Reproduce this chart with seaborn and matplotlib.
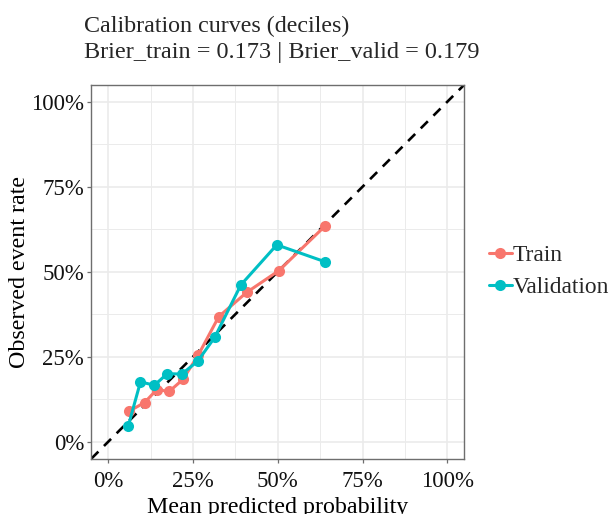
import matplotlib
matplotlib.use("Agg")
import matplotlib.pyplot as plt
from matplotlib.ticker import FixedLocator, FuncFormatter
import seaborn as sns
import pandas as pd

# Decile calibration summaries: mean predicted probability vs observed event rate
train_pred = [0.060, 0.107, 0.143, 0.180, 0.220, 0.265, 0.326, 0.408, 0.503, 0.640]
train_obs = [0.089, 0.115, 0.153, 0.148, 0.183, 0.254, 0.368, 0.439, 0.503, 0.635]
valid_pred = [0.059, 0.095, 0.136, 0.174, 0.217, 0.264, 0.314, 0.391, 0.497, 0.640]
valid_obs = [0.046, 0.176, 0.166, 0.200, 0.199, 0.237, 0.307, 0.461, 0.579, 0.529]
groups = ["Train", "Validation"]
palette = {"Train": "#F8766D", "Validation": "#00BFC4"}

title_line1 = "Calibration curves (deciles)"
title_line2 = "Brier_train = 0.173 | Brier_valid = 0.179"
tick_values = [0, 0.25, 0.5, 0.75, 1.0]
minor_values = [0.125, 0.375, 0.625, 0.875]

df = pd.concat([
    pd.DataFrame({"pred": train_pred, "obs": train_obs, "set": groups[0]}),
    pd.DataFrame({"pred": valid_pred, "obs": valid_obs, "set": groups[1]}),
], ignore_index=True)

sns.set_theme(style="white")
plt.rcParams["font.family"] = ["Liberation Serif", "DejaVu Serif"]

W, H = 615, 514
fig = plt.figure(figsize=(W / 100, H / 100), dpi=100)
ax = fig.add_axes([91.3 / W, 1 - 458.7 / H, 373 / W, 374 / H])
ax.set_facecolor("white")

grid_col = "#EBEBEB"
ax.set_axisbelow(True)

# perfect-calibration reference
ax.axline((0, 0), slope=1, color="black", lw=1.9, ls=(0, (3.8, 3.0)), zorder=1)

sns.lineplot(data=df, x="pred", y="obs", hue="set", hue_order=groups,
             palette=palette, marker="o", markersize=8, markeredgewidth=0,
             linewidth=2.2, estimator=None, sort=False, ax=ax, zorder=3)

ax.set_xlim(-0.05, 1.05)
ax.set_ylim(-0.05, 1.05)
pct = FuncFormatter(lambda v, _: f"{v * 100:.0f}%")
for axis in (ax.xaxis, ax.yaxis):
    axis.set_major_locator(FixedLocator(tick_values))
    axis.set_minor_locator(FixedLocator(minor_values))
    axis.set_major_formatter(pct)
ax.grid(True, which="major", color=grid_col, lw=1.2)
ax.grid(True, which="minor", color=grid_col, lw=0.7)

for sp in ax.spines.values():
    sp.set_color("#6E6E6E")
    sp.set_linewidth(1.0)
ax.tick_params(axis="both", which="major", length=3.2, width=0.9, color="#6E6E6E",
               labelsize=16.5, labelcolor="#111111", bottom=True, left=True)
ax.tick_params(axis="x", which="major", pad=6)
ax.tick_params(axis="y", which="major", pad=2)
ax.tick_params(axis="both", which="minor", length=0)

ax.set_xlabel("Mean predicted probability", fontsize=17.3, color="black", labelpad=3)
ax.set_ylabel("Observed event rate", fontsize=17.3, color="black", labelpad=1)

leg = ax.legend(title=None, frameon=False, loc="center left",
                bbox_to_anchor=(1.04, 0.5), fontsize=16.9, handlelength=1.0,
                handletextpad=0.02, labelspacing=0.45, borderaxespad=0)

fig.text(84 / W, 1 - 32 / H, title_line1, fontsize=17.3, ha="left", va="baseline")
fig.text(84 / W, 1 - 58 / H, title_line2, fontsize=17.5, ha="left", va="baseline")

fig.savefig("out.png", dpi=100)
